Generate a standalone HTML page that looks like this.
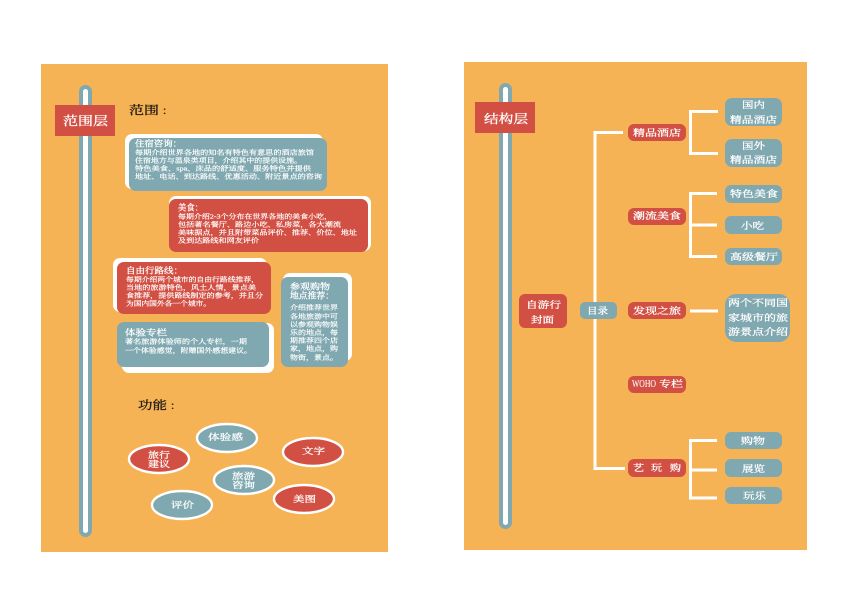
<!DOCTYPE html>
<html lang="zh">
<head>
<meta charset="utf-8">
<title>范围层与结构层</title>
<style>
html,body{margin:0;padding:0;background:#fff}
svg{display:block;filter:blur(.2px)}
text{font-family:"Liberation Serif","Noto Serif CJK SC",serif;fill:#fff;stroke:#fff;stroke-width:.18px;dominant-baseline:central}
.s{font-size:6.4px}
.h{font-size:8.4px;stroke-width:.25px}
.m{font-size:8.8px;stroke-width:.25px}
.n{font-size:9.2px;stroke-width:.25px}
.l{font-size:12px;stroke-width:.3px}
.k{fill:#1d1a14;stroke:#1d1a14;font-size:11.5px;stroke-width:.3px}
.w{font-size:11px;stroke-width:.1px}
</style>
</head>
<body>
<svg width="848" height="600" viewBox="0 0 848 600" xmlns="http://www.w3.org/2000/svg">
<rect width="848" height="600" fill="#fff"/>
<rect x="41" y="64" width="347" height="488" fill="#f6b355"/>
<rect x="464" y="62" width="343" height="488" fill="#f6b355"/>

<!-- left spine -->
<rect x="79" y="85" width="13" height="452" rx="6.5" fill="#80a8b0"/>
<rect x="83" y="89" width="5" height="444" rx="2.5" fill="#fff"/>
<rect x="55" y="105" width="60" height="31" fill="#d24f43"/>
<text class="l" x="63" y="121" textLength="45" lengthAdjust="spacingAndGlyphs">范围层</text>

<text class="k" x="129" y="111" textLength="30" lengthAdjust="spacingAndGlyphs">范围</text>
<text class="k" x="163" y="111">:</text>

<!-- teal 1 -->
<rect x="125" y="134" width="198" height="55" rx="7" fill="#fff"/>
<rect x="129" y="138" width="198" height="53" rx="7" fill="#80a8b0"/>
<text class="h" x="135" y="144" textLength="47" lengthAdjust="spacingAndGlyphs">住宿咨询：</text>
<text class="s" x="135" y="153" textLength="179" lengthAdjust="spacingAndGlyphs">每期介绍世界各地的知名有特色有意思的酒店旅馆</text>
<text class="s" x="135" y="161" textLength="167" lengthAdjust="spacingAndGlyphs">住宿地方与温泉类项目，介绍其中的提供设施。</text>
<text class="s" x="135" y="169" textLength="176" lengthAdjust="spacingAndGlyphs">特色美食、spa、床品的舒适度、服务特色并提供</text>
<text class="s" x="135" y="177" textLength="187" lengthAdjust="spacingAndGlyphs">地址、电话、到达路线、优惠活动、附近景点的咨询</text>

<!-- red 1 -->
<rect x="169" y="196" width="202" height="55" rx="7" fill="#fff"/>
<rect x="169" y="199" width="199" height="53" rx="7" fill="#d24f43"/>
<text class="h" x="178" y="208" textLength="25" lengthAdjust="spacingAndGlyphs">美食：</text>
<text class="s" x="178" y="217" textLength="154" lengthAdjust="spacingAndGlyphs">每期介绍2-3个分布在世界各地的美食小吃，</text>
<text class="s" x="178" y="225" textLength="163" lengthAdjust="spacingAndGlyphs">包括著名餐厅、路边小吃、私房菜，各大潮流</text>
<text class="s" x="178" y="233" textLength="179" lengthAdjust="spacingAndGlyphs">美味据点，并且附带菜品评价、推荐、价位、地址</text>
<text class="s" x="178" y="241" textLength="81" lengthAdjust="spacingAndGlyphs">及到达路线和网友评价</text>

<!-- red 2 -->
<rect x="113" y="258" width="154" height="54" rx="7" fill="#fff"/>
<rect x="117" y="262" width="154" height="52" rx="7" fill="#d24f43"/>
<text class="h" x="126" y="271" textLength="57" lengthAdjust="spacingAndGlyphs">自由行路线：</text>
<text class="s" x="126" y="280" textLength="133" lengthAdjust="spacingAndGlyphs">每期介绍两个城市的自由行路线推荐，</text>
<text class="s" x="126" y="288" textLength="130" lengthAdjust="spacingAndGlyphs">当地的旅游特色，风土人情，景点美</text>
<text class="s" x="126" y="296" textLength="137" lengthAdjust="spacingAndGlyphs">食推荐，提供路线制定的参考，并且分</text>
<text class="s" x="126" y="304" textLength="85" lengthAdjust="spacingAndGlyphs">为国内国外各一个城市。</text>

<!-- teal 2 -->
<rect x="122" y="323" width="152" height="50" rx="7" fill="#fff"/>
<rect x="117" y="322" width="152" height="45" rx="7" fill="#80a8b0"/>
<text class="h" x="125" y="333" textLength="42" lengthAdjust="spacingAndGlyphs">体验专栏</text>
<text class="s" x="125" y="342" textLength="122" lengthAdjust="spacingAndGlyphs">著名旅游体验师的个人专栏，一期</text>
<text class="s" x="125" y="351" textLength="127" lengthAdjust="spacingAndGlyphs">一个体验感觉，附赠国外感想建议。</text>

<!-- teal 3 -->
<rect x="283" y="273" width="69" height="88" rx="7" fill="#fff"/>
<rect x="281" y="277" width="67" height="90" rx="7" fill="#80a8b0"/>
<text class="h" x="290" y="287" textLength="40" lengthAdjust="spacingAndGlyphs">参观购物</text>
<text class="h" x="290" y="296" textLength="44" lengthAdjust="spacingAndGlyphs">地点推荐：</text>
<text class="s" x="290" y="308" textLength="48" lengthAdjust="spacingAndGlyphs">介绍推荐世界</text>
<text class="s" x="290" y="317" textLength="48" lengthAdjust="spacingAndGlyphs">各地旅游中可</text>
<text class="s" x="290" y="325" textLength="48" lengthAdjust="spacingAndGlyphs">以参观购物娱</text>
<text class="s" x="290" y="333" textLength="48" lengthAdjust="spacingAndGlyphs">乐的地点，每</text>
<text class="s" x="290" y="341" textLength="48" lengthAdjust="spacingAndGlyphs">期推荐四个店</text>
<text class="s" x="290" y="349" textLength="48" lengthAdjust="spacingAndGlyphs">家，地点，购</text>
<text class="s" x="290" y="358" textLength="48" lengthAdjust="spacingAndGlyphs">物街，景点。</text>

<text class="k" x="138" y="406" textLength="29" lengthAdjust="spacingAndGlyphs">功能</text>
<text class="k" x="171" y="406">:</text>

<!-- ellipses -->
<g stroke="#fff" stroke-width="2.4">
<ellipse cx="227" cy="438" rx="30" ry="14" fill="#80a8b0"/>
<ellipse cx="159" cy="459" rx="30" ry="14" fill="#d24f43"/>
<ellipse cx="313" cy="452" rx="30" ry="14" fill="#d24f43"/>
<ellipse cx="244" cy="480" rx="30" ry="14" fill="#80a8b0"/>
<ellipse cx="304" cy="499" rx="30" ry="14" fill="#d24f43"/>
<ellipse cx="182" cy="505" rx="30" ry="14" fill="#80a8b0"/>
</g>
<text class="m" x="208" y="437" textLength="35" lengthAdjust="spacingAndGlyphs">体验感</text>
<text class="m" x="148" y="455" textLength="22" lengthAdjust="spacingAndGlyphs">旅行</text>
<text class="m" x="148" y="464" textLength="22" lengthAdjust="spacingAndGlyphs">建议</text>
<text class="m" x="302" y="451" textLength="23" lengthAdjust="spacingAndGlyphs">文字</text>
<text class="m" x="232" y="476" textLength="23" lengthAdjust="spacingAndGlyphs">旅游</text>
<text class="m" x="232" y="485" textLength="23" lengthAdjust="spacingAndGlyphs">咨询</text>
<text class="m" x="293" y="499" textLength="23" lengthAdjust="spacingAndGlyphs">美图</text>
<text class="m" x="171" y="505" textLength="23" lengthAdjust="spacingAndGlyphs">评价</text>

<!-- right spine -->
<rect x="499" y="83" width="13" height="446" rx="6.5" fill="#80a8b0"/>
<rect x="503" y="87" width="5" height="438" rx="2.5" fill="#fff"/>
<rect x="475" y="102" width="60" height="31" fill="#d24f43"/>
<text class="l" x="484" y="119" textLength="44" lengthAdjust="spacingAndGlyphs">结构层</text>

<!-- connectors -->
<g fill="none" stroke="#fff" stroke-width="3">
<path d="M623 132.500H595V468.500H625"/>
<path d="M718 111.500H690.500V153.500H718"/>
<path d="M717 193.500H690.500V256.500H717M690.500 225H717"/>
<path d="M690 311H718"/>
<path d="M717 440.500H690.500V498H717M690.500 470H717"/>
</g>

<!-- red nodes -->
<g fill="#d24f43">
<rect x="519" y="294" width="48" height="34" rx="6"/>
<rect x="628" y="124" width="58" height="17" rx="6"/>
<rect x="628" y="208" width="58" height="17" rx="6"/>
<rect x="628" y="302" width="58" height="17" rx="6"/>
<rect x="628" y="376" width="58" height="17" rx="6"/>
<rect x="628" y="459" width="58" height="18" rx="6"/>
</g>
<!-- teal nodes -->
<g fill="#80a8b0">
<rect x="580" y="302" width="37" height="17" rx="5"/>
<rect x="725" y="98" width="57" height="28" rx="7"/>
<rect x="725" y="139" width="57" height="28" rx="7"/>
<rect x="725" y="185" width="57" height="18" rx="6"/>
<rect x="725" y="216" width="57" height="18" rx="6"/>
<rect x="725" y="248" width="57" height="17" rx="6"/>
<rect x="725" y="294" width="65" height="48" rx="11"/>
<rect x="725" y="432" width="57" height="17" rx="6"/>
<rect x="725" y="459" width="57" height="18" rx="6"/>
<rect x="725" y="487" width="57" height="17" rx="6"/>
</g>

<text class="n" x="526" y="305" textLength="35" lengthAdjust="spacingAndGlyphs">自游行</text>
<text class="n" x="531" y="320" textLength="23" lengthAdjust="spacingAndGlyphs">封面</text>
<text class="n" x="587" y="311" textLength="21" lengthAdjust="spacingAndGlyphs">目录</text>
<text class="n" x="633" y="133" textLength="48" lengthAdjust="spacingAndGlyphs">精品酒店</text>
<text class="n" x="633" y="216" textLength="48" lengthAdjust="spacingAndGlyphs">潮流美食</text>
<text class="n" x="633" y="311" textLength="48" lengthAdjust="spacingAndGlyphs">发现之旅</text>
<text class="w" x="632" y="384" textLength="24" lengthAdjust="spacingAndGlyphs">WOHO</text>
<text class="n" x="659" y="384" textLength="24" lengthAdjust="spacingAndGlyphs">专栏</text>
<text class="n" x="633" y="468" textLength="11" lengthAdjust="spacingAndGlyphs">艺</text>
<text class="n" x="651" y="468" textLength="11" lengthAdjust="spacingAndGlyphs">玩</text>
<text class="n" x="670" y="468" textLength="11" lengthAdjust="spacingAndGlyphs">购</text>
<text class="n" x="742" y="105" textLength="23" lengthAdjust="spacingAndGlyphs">国内</text>
<text class="n" x="730" y="120" textLength="47" lengthAdjust="spacingAndGlyphs">精品酒店</text>
<text class="n" x="742" y="146" textLength="23" lengthAdjust="spacingAndGlyphs">国外</text>
<text class="n" x="730" y="160" textLength="47" lengthAdjust="spacingAndGlyphs">精品酒店</text>
<text class="n" x="730" y="194" textLength="48" lengthAdjust="spacingAndGlyphs">特色美食</text>
<text class="n" x="741" y="226" textLength="23" lengthAdjust="spacingAndGlyphs">小吃</text>
<text class="n" x="730" y="257" textLength="48" lengthAdjust="spacingAndGlyphs">高级餐厅</text>
<text class="n" x="728" y="303" textLength="60" lengthAdjust="spacingAndGlyphs">两个不同国</text>
<text class="n" x="728" y="318" textLength="60" lengthAdjust="spacingAndGlyphs">家城市的旅</text>
<text class="n" x="728" y="332" textLength="60" lengthAdjust="spacingAndGlyphs">游景点介绍</text>
<text class="n" x="741" y="441" textLength="24" lengthAdjust="spacingAndGlyphs">购物</text>
<text class="n" x="742" y="469" textLength="23" lengthAdjust="spacingAndGlyphs">展览</text>
<text class="n" x="743" y="496" textLength="23" lengthAdjust="spacingAndGlyphs">玩乐</text>
</svg>
</body>
</html>
